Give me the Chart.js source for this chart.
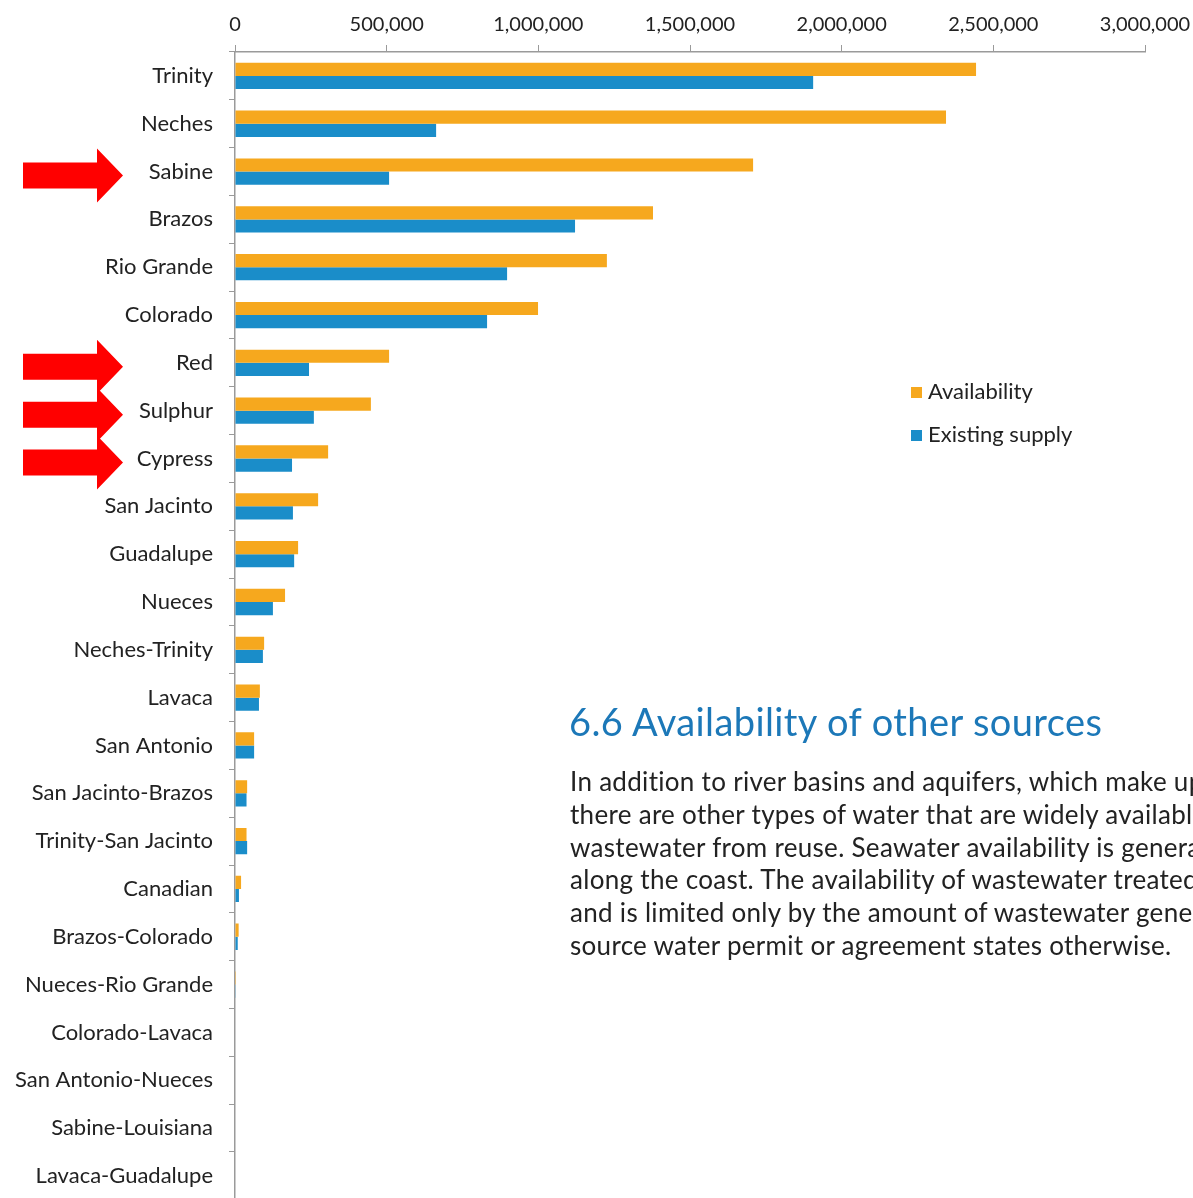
<!DOCTYPE html>
<html>
<head>
<meta charset="utf-8">
<script src="https://cdn.jsdelivr.net/npm/chart.js@4.4.1/dist/chart.umd.min.js"></script>
<style>
  html, body { margin: 0; padding: 0; background: #fff; overflow: hidden; width: 1193px; height: 1198px; }
  #c { position: absolute; left: 0; top: 0; }
  .legend { position: absolute; left: 911px; font-family: Lato, sans-serif; font-size: 22px; color: #222; white-space: nowrap; }
  .legend span.sw { display: inline-block; width: 11px; height: 11px; margin-right: 6px; vertical-align: 1px; }
  #heading { position: absolute; left: 569px; top: 698px; font-family: Lato, sans-serif; font-size: 38px; letter-spacing: 0.4px; color: #1c78b8; white-space: nowrap; }
  #para { position: absolute; left: 570px; top: 765px; width: 623px; overflow: hidden; font-family: Lato, sans-serif; font-size: 26px; letter-spacing: 0.3px; line-height: 32.8px; color: #222; white-space: nowrap; }
</style>
</head>
<body>
<canvas id="c" width="1193" height="1229"></canvas>
<div class="legend" id="lg0" style="top:377px"></div>
<div class="legend" id="lg1" style="top:420px"></div>
<div id="heading">6.6 Availability of other sources</div>
<div id="para">
In addition to river basins and aquifers, which make up<br>
there are other types of water that are widely available<br>
wastewater from reuse. Seawater availability is generally<br>
along the coast. The availability of wastewater treated<br>
and is limited only by the amount of wastewater generated<br>
source water permit or agreement states otherwise.
</div>
<script>
const categories = ["Trinity","Neches","Sabine","Brazos","Rio Grande","Colorado","Red","Sulphur","Cypress","San Jacinto","Guadalupe","Nueces","Neches-Trinity","Lavaca","San Antonio","San Jacinto-Brazos","Trinity-San Jacinto","Canadian","Brazos-Colorado","Nueces-Rio Grande","Colorado-Lavaca","San Antonio-Nueces","Sabine-Louisiana","Lavaca-Guadalupe"];
const availability = [2443000,2344000,1708000,1378000,1226000,999000,508000,448000,307000,274000,208000,165000,96000,82000,63000,40000,38000,20000,12000,3000,0,0,0,0];
const existingSupply = [1906000,663000,508000,1121000,897000,831000,244000,260000,188000,191000,195000,125000,92000,79000,63000,38000,40000,13000,9000,1000,0,0,0,0];
const xTicks = [0,500000,1000000,1500000,2000000,2500000,3000000];
const seriesNames = ["Availability","Existing supply"];
const seriesColors = ["#F6A81E","#1A8DC9"];
const arrowed = ["Sabine","Red","Sulphur","Cypress"];

const arrowPlugin = {
  id: 'arrows',
  afterDraw(chart) {
    const ctx = chart.ctx;
    const ys = chart.scales.y;
    ctx.save();
    ctx.fillStyle = '#FF0000';
    arrowed.forEach(name => {
      const i = categories.indexOf(name);
      const y = ys.getPixelForValue(i) + 4;
      ctx.beginPath();
      ctx.moveTo(23, y - 13);
      ctx.lineTo(97, y - 13);
      ctx.lineTo(97, y - 27);
      ctx.lineTo(123, y);
      ctx.lineTo(97, y + 27);
      ctx.lineTo(97, y + 13);
      ctx.lineTo(23, y + 13);
      ctx.closePath();
      ctx.fill();
    });
    ctx.restore();
  }
};

new Chart(document.getElementById('c'), {
  type: 'bar',
  data: {
    labels: categories,
    datasets: [
      { label: seriesNames[0], data: availability, backgroundColor: seriesColors[0], barPercentage: 1, categoryPercentage: 0.55 },
      { label: seriesNames[1], data: existingSupply, backgroundColor: seriesColors[1], barPercentage: 1, categoryPercentage: 0.55 }
    ]
  },
  options: {
    indexAxis: 'y',
    responsive: false,
    animation: false,
    devicePixelRatio: 1,
    layout: { padding: { left: 0, right: 48, top: 0, bottom: 0 } },
    plugins: { legend: { display: false }, tooltip: { enabled: false } },
    scales: {
      x: {
        position: 'top',
        min: xTicks[0], max: xTicks[xTicks.length - 1],
        afterBuildTicks: s => { s.ticks = xTicks.map(v => ({ value: v })); },
        ticks: { font: { family: 'Lato, sans-serif', size: 20 }, color: '#222', padding: 8, maxRotation: 0,
                 callback: v => v.toLocaleString('en-US') },
        grid: { drawOnChartArea: false, drawTicks: true, tickLength: 7, color: '#9a9a9a' },
        border: { display: true, color: '#9a9a9a', width: 1.5 },
        afterFit: s => { s.height = 52; s.paddingLeft = 0; s.paddingRight = 0; }
      },
      y: {
        ticks: { font: { family: 'Lato, sans-serif', size: 22 }, color: '#222', padding: 16, autoSkip: false },
        grid: { drawOnChartArea: false, drawTicks: true, tickLength: 6, color: '#9a9a9a', offset: true },
        border: { display: true, color: '#9a9a9a', width: 1.5 },
        afterFit: s => { s.width = 235; }
      }
    }
  },
  plugins: [arrowPlugin]
});

['lg0','lg1'].forEach((id, k) => {
  const el = document.getElementById(id);
  const sw = document.createElement('span');
  sw.className = 'sw';
  sw.style.background = seriesColors[k];
  el.appendChild(sw);
  el.appendChild(document.createTextNode(seriesNames[k]));
});
</script>
</body>
</html>
